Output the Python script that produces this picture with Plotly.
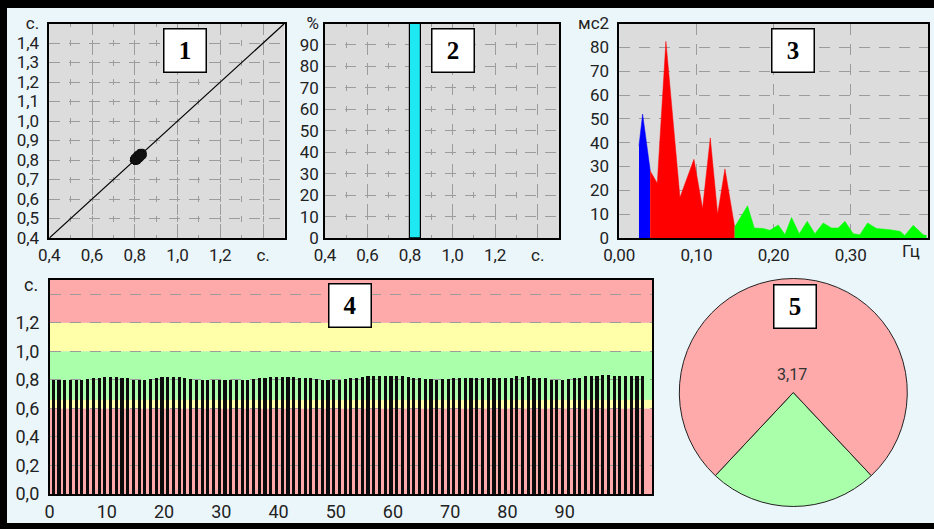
import plotly.graph_objects as go

W, H = 934, 529

# ---------------- data ----------------
rr_intervals = [
    0.80, 0.80, 0.80, 0.80, 0.80, 0.80, 0.805, 0.81, 0.815, 0.82, 0.82, 0.82, 0.815,
    0.81, 0.80, 0.80, 0.80, 0.805, 0.81, 0.82, 0.82, 0.82, 0.82, 0.81, 0.805, 0.80,
    0.80, 0.80, 0.80, 0.80, 0.80, 0.80, 0.80, 0.80, 0.80, 0.805, 0.81, 0.815, 0.82,
    0.82, 0.82, 0.82, 0.82, 0.815, 0.81, 0.81, 0.805, 0.80, 0.80, 0.80, 0.80, 0.805,
    0.81, 0.815, 0.82, 0.825, 0.825, 0.825, 0.825, 0.825, 0.825, 0.825, 0.82, 0.815,
    0.81, 0.805, 0.805, 0.80, 0.805, 0.805, 0.81, 0.81, 0.81, 0.81, 0.815, 0.815,
    0.81, 0.81, 0.81, 0.815,
    0.815, 0.825, 0.82, 0.825, 0.815, 0.81, 0.81, 0.80, 0.80, 0.80, 0.805, 0.81,
    0.815, 0.825, 0.83, 0.825, 0.835, 0.835, 0.825, 0.825, 0.825, 0.825, 0.825, 0.825,
]
beat_index = list(range(len(rr_intervals)))

poincare_x = rr_intervals[:-1]
poincare_y = rr_intervals[1:]
identity_line = [0.4, 1.5]

hist_bin_center = [0.825]
hist_bin_width = 0.05
hist_percent = [100]

vlf_freq = [0.0255, 0.0302, 0.0400]
vlf_power = [38.7, 52.0, 28.5]
lf_freq = [0.0400, 0.0406, 0.0492, 0.0604, 0.0786, 0.0967, 0.1079, 0.1179, 0.1274,
           0.1369, 0.1495]
lf_power = [28.5, 27.8, 23.0, 82.5, 17.0, 33.0, 12.4, 42.0, 10.0, 29.0, 4.6]
hf_freq = [0.1495, 0.1662, 0.1749, 0.1865, 0.1952, 0.2060, 0.2146, 0.2232, 0.2332,
           0.2435, 0.2535, 0.2642, 0.2750, 0.2837, 0.2923, 0.3031, 0.3117, 0.3217,
           0.3333, 0.3506, 0.3636, 0.3700, 0.3808, 0.3938, 0.3981]
hf_power = [4.6, 13.5, 4.2, 4.0, 3.2, 5.5, 1.5, 8.6, 1.8, 7.0, 1.8, 6.3, 4.2, 4.2,
            7.0, 1.8, 1.4, 6.3, 4.0, 3.5, 2.8, 1.1, 5.3, 1.4, 1.0]

lf_hf_values = [1.0, 3.17]       # HF, LF
lf_hf_labels = ["HF", "LF"]

band_edges = [0.0, 0.6, 0.66, 1.0, 1.2, 1.5]
band_colors = ["#ffaaaa", "#ffffaa", "#aaffaa", "#ffffaa", "#ffaaaa"]

tick_s_x = [0.4, 0.6, 0.8, 1.0, 1.2, 1.4]
tick_s_x_text = ["0,4", "0,6", "0,8", "1,0", "1,2", "с."]
tick_s_y = [0.4, 0.5, 0.6, 0.7, 0.8, 0.9, 1.0, 1.1, 1.2, 1.3, 1.4, 1.5]
tick_s_y_text = ["0,4", "0,5", "0,6", "0,7", "0,8", "0,9", "1,0", "1,1", "1,2", "1,3", "1,4", "с."]
tick_pct = [0, 10, 20, 30, 40, 50, 60, 70, 80, 90, 100]
tick_pct_text = ["0", "10", "20", "30", "40", "50", "60", "70", "80", "90", "%"]
tick_hz = [0.0, 0.1, 0.2, 0.3]
tick_hz_text = ["0,00", "0,10", "0,20", "0,30"]
tick_ms2 = [0, 10, 20, 30, 40, 50, 60, 70, 80, 90]
tick_ms2_text = ["0", "10", "20", "30", "40", "50", "60", "70", "80", "мс2"]
tick_beat = [0, 10, 20, 30, 40, 50, 60, 70, 80, 90]
tick_rr = [0.0, 0.2, 0.4, 0.6, 0.8, 1.0, 1.2, 1.4]
tick_rr_text = ["0,0", "0,2", "0,4", "0,6", "0,8", "1,0", "1,2", ""]

# ---------------- helpers ----------------
def px_x(p):
    return p / W

def px_y(p):
    return 1 - p / H

GRID = "#9c9c9c"
DASH = "11px,9px"
FONT = "Roboto"
TXT = "#222222"


def axis(domain, rng, tickvals, ticktext, size=17, grid=True, minor=None, standoff=4, anchor=None):
    d = dict(domain=domain, range=rng, tickmode="array", tickvals=tickvals, ticktext=ticktext,
             showline=True, linecolor="black", linewidth=1.5, mirror=True, zeroline=False,
             showgrid=grid, gridcolor=GRID, griddash=DASH, gridwidth=1, ticks="",
             tickfont=dict(family=FONT, size=size, color=TXT), fixedrange=True,
             ticklabelstandoff=standoff, anchor=anchor, automargin=False)
    if minor is not None:
        d["minor"] = minor
    return d


fig = go.Figure()

# Panel 1: Poincaré plot
fig.add_trace(go.Scatter(x=identity_line, y=identity_line, mode="lines",
                         line=dict(color="black", width=1.2), xaxis="x", yaxis="y",
                         hoverinfo="skip"))
fig.add_trace(go.Scatter(x=poincare_x, y=poincare_y, mode="markers",
                         marker=dict(color="#111111", size=9), xaxis="x", yaxis="y"))

# Panel 2: histogram
fig.add_trace(go.Bar(x=hist_bin_center, y=hist_percent, width=hist_bin_width,
                     marker=dict(color="#1ee8f2", line=dict(color="black", width=1.2)),
                     xaxis="x2", yaxis="y2"))

# Panel 3: spectrum
for fx, fy, col in [(vlf_freq, vlf_power, "#0000ff"), (lf_freq, lf_power, "#ff0000"),
                    (hf_freq, hf_power, "#00ff00")]:
    fig.add_trace(go.Scatter(x=fx, y=fy, mode="lines", fill="tozeroy", fillcolor=col,
                             line=dict(color=col, width=0.5), xaxis="x3", yaxis="y3"))

# Panel 4: rhythmogram
fig.add_trace(go.Bar(x=beat_index, y=rr_intervals, width=0.55, offset=0.3,
                     marker=dict(color="#0c0c0c", line=dict(width=0)),
                     xaxis="x4", yaxis="y4"))

# Panel 5: pie
fig.add_trace(go.Pie(values=lf_hf_values, labels=lf_hf_labels, sort=False,
                     direction="clockwise", rotation=180 - 180 * lf_hf_values[0] / sum(lf_hf_values),
                     marker=dict(colors=["#aaffaa", "#ffaaaa"], line=dict(color="#222222", width=1)),
                     textinfo="none", hoverinfo="skip",
                     domain=dict(x=[px_x(679.3), px_x(907.3)], y=[px_y(506.5), px_y(278.5)])))

# minor vertical grid lines drawn as short "+" marks at the horizontal grid rows
minor_s1 = dict(tickmode="linear", tick0=0.4, dtick=0.1, showgrid=True, gridcolor=GRID,
                griddash="3px,13.5px,3px,0px", gridwidth=1, ticks="")
minor_s2 = dict(tickmode="linear", tick0=0.4, dtick=0.1, showgrid=True, gridcolor=GRID,
                griddash="3px,15.45px,3px,0px", gridwidth=1, ticks="")

yd_top = [px_y(238), px_y(23.5)]
fig.update_layout(
    xaxis=axis([px_x(49.3), px_x(284.5)], [0.4, 1.5], tick_s_x, tick_s_x_text, minor=minor_s1, anchor="y", standoff=1),
    yaxis=axis(yd_top, [0.4, 1.5], tick_s_y, tick_s_y_text, anchor="x", standoff=5),
    xaxis2=axis([px_x(325), px_x(559)], [0.4, 1.5], tick_s_x, tick_s_x_text, minor=minor_s2, anchor="y2", standoff=1),
    yaxis2=axis(yd_top, [0, 100], tick_pct, tick_pct_text, anchor="x2", standoff=1),
    xaxis3=axis([px_x(619.3), px_x(928)], [0, 0.4], tick_hz, tick_hz_text, anchor="y3", standoff=1),
    yaxis3=axis(yd_top, [0, 90], tick_ms2, tick_ms2_text, anchor="x3", standoff=5),
    xaxis4=axis([px_x(49.6), px_x(652)], [0, 105.26], tick_beat, [str(v) for v in tick_beat],
                size=18, grid=False, anchor="y4", standoff=1),
    yaxis4=axis([px_y(494), px_y(280)], [0, 1.5], tick_rr, tick_rr_text, size=18, anchor="x4", standoff=5),
)

shapes = []
for i, col in enumerate(band_colors):
    shapes.append(dict(type="rect", xref="x4 domain", yref="y4", x0=0, x1=1,
                       y0=band_edges[i], y1=band_edges[i + 1], fillcolor=col,
                       line=dict(width=0), layer="below"))
# black frame of the screen
shapes += [
    dict(type="rect", xref="paper", yref="paper", x0=0, x1=1, y0=px_y(8), y1=1,
         fillcolor="black", line=dict(width=0)),
    dict(type="rect", xref="paper", yref="paper", x0=0, x1=px_x(7), y0=0, y1=1,
         fillcolor="black", line=dict(width=0)),
    dict(type="rect", xref="paper", yref="paper", x0=0, x1=1, y0=0, y1=px_y(523),
         fillcolor="black", line=dict(width=0)),
]

annotations = []
for label, cx, cy in [("1", 185, 50.5), ("2", 453, 50.5), ("3", 792.5, 50.5),
                      ("4", 349.5, 305.5), ("5", 795.3, 306.3)]:
    annotations.append(dict(text=f"<b>{label}</b>", x=px_x(cx), y=px_y(cy), xref="paper", yref="paper",
                            showarrow=False, xanchor="center", yanchor="middle",
                            font=dict(family="Liberation Serif", size=25, color="black"),
                            bgcolor="white", bordercolor="black", borderwidth=1.5, borderpad=0,
                            width=41, height=42))
annotations += [
    dict(text="Гц", x=0.378, xref="x3", y=px_y(251), yref="paper", showarrow=False,
         font=dict(family=FONT, size=17, color=TXT), xanchor="center", yanchor="middle"),
    dict(text="с.", x=px_x(40), xref="paper", y=1.467, yref="y4", showarrow=False,
         font=dict(family=FONT, size=18, color=TXT), xanchor="right", yanchor="middle"),
    dict(text=f"{lf_hf_values[1] / lf_hf_values[0]:.2f}".replace(".", ","),
         x=px_x(792), y=px_y(374), xref="paper", yref="paper", showarrow=False,
         font=dict(family=FONT, size=16, color="#333333"), xanchor="center", yanchor="middle"),
]

fig.update_layout(
    width=W, height=H, margin=dict(l=0, r=0, t=0, b=0, autoexpand=False),
    paper_bgcolor="#ebf6fb", plot_bgcolor="#dcdcdc",
    showlegend=False, bargap=0, shapes=shapes, annotations=annotations,
)

fig.write_html("out.html", config=dict(displayModeBar=False))
